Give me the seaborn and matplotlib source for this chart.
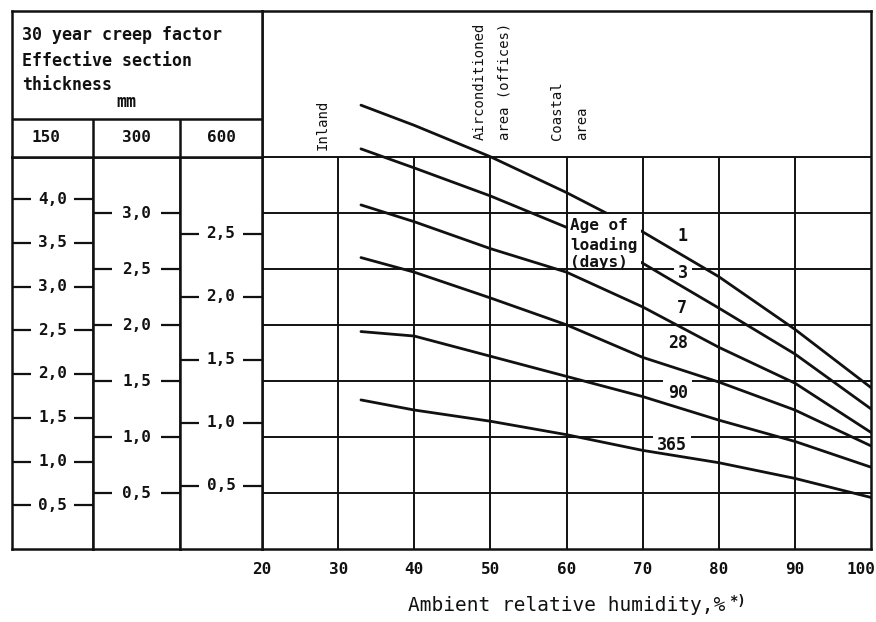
import matplotlib
matplotlib.use("Agg")
import matplotlib.pyplot as plt
import pandas as pd
import seaborn as sns
from matplotlib.patches import Rectangle
from matplotlib.transforms import ScaledTranslation

# ---- data -------------------------------------------------------------
# Ambient relative humidity (%) at which the curves are read
humidity = [33, 40, 50, 60, 70, 80, 90, 100]

# 30 year creep factor, expressed on the 300 mm section scale,
# for each age of loading (days)
ages = ["1", "3", "7", "28", "90", "365"]
creep_age_1 = [3.96, 3.78, 3.50, 3.18, 2.83, 2.43, 1.96, 1.44]
creep_age_3 = [3.57, 3.40, 3.15, 2.87, 2.55, 2.15, 1.74, 1.25]
creep_age_7 = [3.07, 2.92, 2.68, 2.47, 2.16, 1.80, 1.48, 1.04]
creep_age_28 = [2.60, 2.47, 2.24, 2.00, 1.71, 1.49, 1.24, 0.92]
creep_age_90 = [1.94, 1.90, 1.72, 1.54, 1.36, 1.15, 0.96, 0.73]
creep_age_365 = [1.33, 1.24, 1.14, 1.02, 0.88, 0.77, 0.63, 0.46]

# Effective section thickness scales (mm) and their tick values
thickness = ["150", "300", "600"]
scale_factor = [1.28, 1.0, 1 / 1.125]     # creep factor relative to 300 mm
ticks_150 = [0.5, 1.0, 1.5, 2.0, 2.5, 3.0, 3.5, 4.0]
ticks_300 = [0.5, 1.0, 1.5, 2.0, 2.5, 3.0]
ticks_600 = [0.5, 1.0, 1.5, 2.0, 2.5]

humidity_ticks = [20, 30, 40, 50, 60, 70, 80, 90, 100]
grid_levels = [0.5, 1.0, 1.5, 2.0, 2.5, 3.0, 3.5]

# Curve labels: (age, humidity, creep factor)
label_age = ["1", "3", "7", "28", "90", "365"]
label_x = [75.2, 75.3, 75.2, 74.6, 74.6, 73.9]
label_y = [2.79, 2.46, 2.15, 1.84, 1.39, 0.93]

# Climate zones written above the grid
zone_text = ["Inland", "Airconditioned", "area (offices)", "Coastal", "area"]
zone_x = [28.0, 48.6, 51.9, 58.8, 62.1]
zone_y = [3.56, 3.65, 3.65, 3.65, 3.65]

# ---- style ------------------------------------------------------------
sns.set_style("white")
plt.rcParams["font.family"] = ["DejaVu Sans Mono", "DejaVu Sans"]
ink = "#111111"
W, H = 876, 622


def box(l, t, r, b):
    """Pixel rectangle -> figure fraction [left, bottom, width, height]."""
    return [l / W, 1 - b / H, (r - l) / W, (b - t) / H]


fig = plt.figure(figsize=(W / 100, H / 100), dpi=100)

FRAME_W = 1.8
GRID_W = 1.4

# ---- main chart -------------------------------------------------------
ax = fig.add_axes(box(262, 11, 871, 549))
ax.set_xlim(20, 100)
ax.set_ylim(0, 4.80)
for s in ax.spines.values():
    s.set_linewidth(FRAME_W)
    s.set_color(ink)
    s.set_visible(True)

ax.hlines(grid_levels, 20, 100, color=ink, lw=GRID_W, zorder=2)
ax.vlines(humidity_ticks[1:-1], 0, 3.5, color=ink, lw=GRID_W, zorder=2)

series = [creep_age_1, creep_age_3, creep_age_7,
          creep_age_28, creep_age_90, creep_age_365]
df = pd.DataFrame({
    "humidity": humidity * len(ages),
    "creep": sum(series, []),
    "age": [a for a in ages for _ in humidity],
})
sns.lineplot(data=df, x="humidity", y="creep", hue="age",
             palette={a: ink for a in ages}, legend=False, sort=False,
             estimator=None, lw=2.0, ax=ax, zorder=3)

# blank cell holding the "Age of loading" note
ax.add_patch(Rectangle((60.25, 2.513), 9.5, 0.474, facecolor="white",
                       edgecolor="none", zorder=3.5))
for txt, yy in zip(["Age of", "loading", "(days)"], [2.89, 2.71, 2.555]):
    ax.text(60.45, yy, txt, ha="left", va="center", fontsize=11.5,
            fontweight="bold", color=ink, zorder=4)

for lab, lx, ly in zip(label_age, label_x, label_y):
    ax.text(lx, ly, lab, ha="center", va="center", fontsize=12,
            fontweight="bold", color=ink, zorder=2.5,
            bbox=dict(boxstyle="square,pad=0.25", fc="white", ec="none"))

for txt, zx, zy in zip(zone_text, zone_x, zone_y):
    ax.text(zx, zy, txt, rotation=90, ha="center", va="bottom",
            fontsize=10, color=ink)

ax.set_xticks(humidity_ticks)
ax.set_xticklabels([str(v) for v in humidity_ticks], fontsize=11.5,
                   fontweight="bold", color=ink)
ax.set_yticks([])
ax.tick_params(axis="x", length=0, pad=9)
last = ax.get_xticklabels()[-1]
last.set_ha("right")
last.set_transform(last.get_transform()
                   + ScaledTranslation(4 / 100, 0, fig.dpi_scale_trans))

ax.set_xlabel("Ambient relative humidity,%", fontsize=14, color=ink)
ax.xaxis.set_label_coords(0.50, -0.088)
ax.set_ylabel("")
ax.annotate("*)", xy=(1, 1), xycoords=ax.xaxis.label, xytext=(3, 2),
            textcoords="offset points", ha="left", va="top",
            fontsize=10, fontweight="bold", color=ink)

# ---- thickness scales ---------------------------------------------------
col_edges = [12, 93, 180, 262]
all_ticks = [ticks_150, ticks_300, ticks_600]
for i in range(3):
    cax = fig.add_axes(box(col_edges[i], 157, col_edges[i + 1], 549))
    cax.set_xlim(0, 1)
    cax.set_ylim(0, 3.5 * scale_factor[i])
    for s in cax.spines.values():
        s.set_linewidth(FRAME_W)
        s.set_color(ink)
        s.set_visible(True)
    cax.set_xticks([])
    cax.set_yticks(all_ticks[i])
    cax.tick_params(axis="y", left=True, right=True, direction="in",
                    length=14, width=1.6, color=ink, labelleft=False)
    for v in all_ticks[i]:
        cax.text(0.5, v, f"{v:.1f}".replace(".", ","), ha="center",
                 va="center", fontsize=11.5, fontweight="bold", color=ink,
                 transform=cax.get_yaxis_transform())

# ---- header -------------------------------------------------------------
hax = fig.add_axes(box(12, 11, 262, 157))
hax.set_xlim(12, 262)
hax.set_ylim(157, 11)
hax.set_xticks([])
hax.set_yticks([])
for s in hax.spines.values():
    s.set_linewidth(FRAME_W)
    s.set_color(ink)
    s.set_visible(True)
hax.hlines(119, 12, 262, color=ink, lw=FRAME_W)
hax.vlines(col_edges[1:3], 119, 157, color=ink, lw=FRAME_W)
for txt, yy in zip(["30 year creep factor", "Effective section",
                    "thickness"], [35, 61, 85]):
    hax.text(22, yy, txt, ha="left", va="center", fontsize=12,
             fontweight="bold", color=ink)
hax.text(126, 102, "mm", ha="center", va="center", fontsize=12,
         fontweight="bold", color=ink)
for name, cx in zip(thickness, [46, 136, 221]):
    hax.text(cx, 138, name, ha="center", va="center", fontsize=11.5,
             fontweight="bold", color=ink)

fig.savefig("out.png", dpi=100, facecolor="white")
